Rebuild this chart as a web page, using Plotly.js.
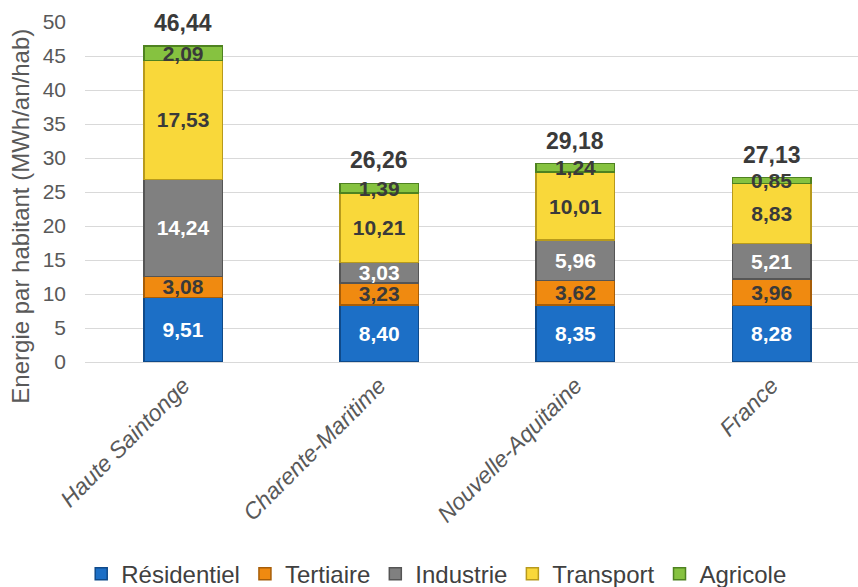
<!DOCTYPE html>
<html><head><meta charset="utf-8">
<script src="https://cdn.plot.ly/plotly-3.0.1.min.js"></script>
<style>html,body{margin:0;padding:0;background:#fff}#c{width:858px;height:587px}</style>
</head><body><div id="c"></div>
<script>
const categories = ["Haute Saintonge", "Charente-Maritime", "Nouvelle-Aquitaine", "France"];
const residentiel = [9.51, 8.40, 8.35, 8.28];
const tertiaire = [3.08, 3.23, 3.62, 3.96];
const industrie = [14.24, 3.03, 5.96, 5.21];
const transport = [17.53, 10.21, 10.01, 8.83];
const agricole = [2.09, 1.39, 1.24, 0.85];
const totals = [46.44, 26.26, 29.18, 27.13];
const seriesNames = ["Résidentiel", "Tertiaire", "Industrie", "Transport", "Agricole"];
const yTitle = "Energie par habitant (MWh/an/hab)";

const FONT = 'Liberation Sans, Arial, sans-serif';
const fmt = v => v.toFixed(2).replace('.', ',');
const seriesData = [residentiel, tertiaire, industrie, transport, agricole];
const colors = ["#1C6FC6", "#F08A10", "#808080", "#F9D83A", "#86C240"];
const lineColors = ["#0F4A8A", "#A65D08", "#555555", "#B89A1C", "#4E8220"];
const textColors = ["#FFFFFF", "#3A3A3A", "#FFFFFF", "#3A3A3A", "#3A3A3A"];

const traces = seriesData.map((vals, i) => ({
  type: 'bar',
  name: seriesNames[i],
  x: categories,
  y: vals,
  text: vals.map(fmt),
  textposition: 'inside',
  insidetextanchor: 'middle',
  textangle: 0,
  constraintext: 'none',
  textfont: {family: FONT, size: 21, color: textColors[i], weight: 'bold'},
  marker: {color: colors[i], line: {color: lineColors[i], width: 1.5}},
  hoverinfo: 'skip'
}));

const annotations = categories.map((c, i) => ({
  x: c, y: totals[i], xref: 'x', yref: 'y',
  text: '<b>' + fmt(totals[i]) + '</b>',
  showarrow: false, yanchor: 'bottom', yshift: 8,
  font: {family: FONT, size: 23, color: '#3A3A3A'}
}));
annotations.push({
  xref: 'paper', yref: 'paper', x: -0.083, y: 0.43,
  text: yTitle, textangle: -90, showarrow: false,
  xanchor: 'center', yanchor: 'middle',
  font: {family: FONT, size: 24, color: '#595959'}
});

const layout = {
  width: 858, height: 587,
  margin: {l: 85, r: 0, t: 22, b: 225, autoexpand: false},
  barmode: 'stack',
  bargap: 0.6,
  separators: ', ',
  paper_bgcolor: '#fff', plot_bgcolor: '#fff',
  font: {family: FONT, color: '#595959'},
  xaxis: {
    type: 'category', range: [-0.5, 3.44],
    tickangle: -45, ticks: '',
    tickfont: {size: 23, color: '#595959', style: 'italic'},
    showgrid: false, showline: true, linecolor: '#D9D9D9', linewidth: 1,
    automargin: false
  },
  yaxis: {
    range: [0, 50], dtick: 5, tick0: 0,
    tickfont: {size: 21, color: '#595959'},
    showgrid: true, gridcolor: '#D9D9D9', gridwidth: 1,
    zeroline: false, showline: false, ticks: '', ticklabelstandoff: 18,
    automargin: false
  },
  showlegend: true,
  legend: {
    orientation: 'h', traceorder: 'normal',
    x: 0.455, xanchor: 'center', y: -0.69, yanchor: 'bottom',
    font: {size: 24, color: '#404040'}, itemwidth: 30
  },
  annotations: annotations
};

Plotly.newPlot('c', traces, layout, {displayModeBar: false, staticPlot: true});
</script></body></html>
